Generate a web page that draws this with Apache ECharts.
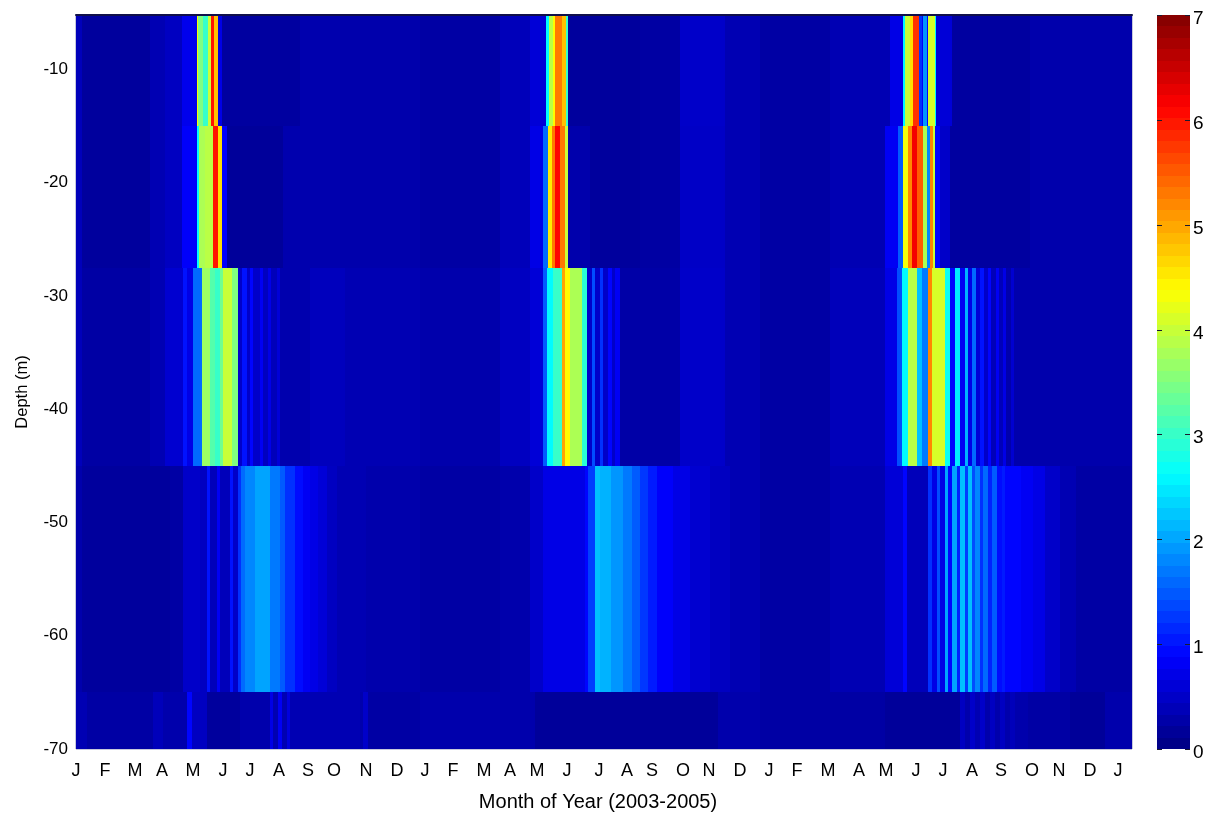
<!DOCTYPE html>
<html>
<head>
<meta charset="utf-8">
<style>html,body{margin:0;padding:0;background:#fff}#c{width:1223px;height:816px}</style>
<script src="https://cdn.jsdelivr.net/npm/echarts@6/dist/echarts.min.js"></script>
</head>
<body>
<div id="c"></div>
<script>
// Depth bands (m): top and bottom of each layer
const bandEdges = [-5.2, -15, -27.5, -45, -65, -70];
// Each layer: [end of run along the time axis, value]
const band1Runs = [[6,.4],[74,.2],[89,.35],[106,.45],[121,.75],[122,4.4],[127,3.5],[132,3],[135,4],[138,6],[142,4.8],[146,.7],[224,.22],[264,.32],[344,.3],[424,.25],[454,.4],[470,.6],[473,2.6],[477,3.9],[479,4.4],[486,5.3],[490,4.8],[492,3],[564,.2],[604,.24],[649,.5],[684,.35],[754,.25],[814,.35],[827,.7],[829,2.6],[834,4],[837,4.6],[843,5.8],[846,1.2],[847,.8],[851,1.9],[852,.9],[859,4.1],[860,2.6],[876,.6],[954,.22],[1056,.3]];
const band2Runs = [[6,.4],[74,.2],[89,.35],[106,.45],[121,.85],[123,2.6],[129,3.8],[137,3.9],[142,6],[146,4.6],[151,.85],[207,.18],[264,.32],[344,.3],[424,.25],[454,.4],[467,.7],[472,1.6],[476,4.5],[479,5.3],[484,6.1],[489,5.3],[492,4],[514,.3],[564,.2],[604,.24],[649,.48],[684,.35],[754,.25],[809,.35],[822,.8],[827,1.5],[832,4.3],[836,5.2],[841,6.2],[847,5.5],[851,3.8],[854,1.8],[857,5.2],[859,4],[864,.9],[874,.5],[954,.22],[1056,.3]];
const band3Runs = [[6,.4],[74,.25],[89,.35],[107,.55],[111,1],[117,.7],[126,1.6],[134,3.7],[139,3.2],[144,3],[147,3.4],[156,4],[162,3.5],[166,.5],[171,1],[174,.5],[177,.9],[184,.5],[187,.8],[192,.45],[195,.7],[201,.4],[204,.6],[234,.32],[269,.42],[344,.35],[424,.3],[454,.45],[467,.6],[471,1.5],[477,2.6],[486,3],[489,5],[494,4.4],[506,3.8],[511,2.9],[516,.5],[519,1.4],[524,.5],[527,1.2],[532,.5],[536,.9],[539,.5],[544,.8],[604,.27],[649,.5],[684,.35],[754,.25],[809,.4],[821,.7],[826,1.4],[832,2.6],[841,3.9],[846,2.2],[852,1.7],[856,5.2],[869,4.1],[874,2.7],[879,.9],[884,2.5],[889,.8],[892,2.1],[896,.7],[900,1.6],[904,.6],[908,1],[912,.5],[915,.9],[920,.4],[923,.8],[927,.4],[930,.7],[935,.3],[938,.55],[1056,.3]];
const band4Runs = [[6,.3],[94,.2],[107,.25],[124,.5],[131,.45],[134,1],[141,.4],[144,.8],[154,.4],[157,1],[162,.5],[165,1.2],[169,1.6],[179,1.8],[194,2],[204,1.7],[209,1.5],[219,1.2],[227,.95],[234,.8],[242,.7],[251,.6],[261,.45],[290,.35],[344,.3],[424,.25],[454,.3],[467,.5],[509,.7],[512,.9],[519,1.3],[524,2.2],[535,2.1],[547,1.9],[556,1.7],[564,1.5],[572,1.25],[581,1.05],[597,.85],[614,.7],[634,.55],[654,.45],[684,.35],[754,.25],[809,.35],[827,.6],[831,.9],[852,.4],[856,1.2],[861,.7],[864,1.4],[869,.7],[872,2],[876,.9],[881,2],[884,1.1],[889,2.2],[892,1.3],[896,2.2],[899,1.4],[904,1.8],[907,1.2],[912,1.6],[916,1.1],[921,1.5],[926,.95],[929,1.05],[945,.9],[957,.8],[969,.7],[984,.5],[1000,.35],[1056,.25]];
const band5Runs = [[11,.35],[77,.25],[87,.4],[111,.3],[116,.9],[131,.45],[164,.2],[194,.3],[197,.7],[202,.35],[206,.8],[211,.35],[214,.65],[284,.35],[287,.3],[292,.5],[344,.25],[459,.3],[642,.18],[684,.3],[754,.25],[809,.25],[884,.18],[889,.45],[894,.3],[899,.5],[904,.35],[909,.5],[914,.3],[919,.45],[924,.3],[929,.45],[934,.3],[939,.4],[952,.3],[994,.25],[1029,.17],[1056,.3]];
const bands = [band1Runs, band2Runs, band3Runs, band4Runs, band5Runs];

// Axis tick labels
const monthLabels = ['J','F','M','A','M','J','J','A','S','O','N','D','J','F','M','A','M','J','J','A','S','O','N','D','J','F','M','A','M','J','J','A','S','O','N','D','J'];
const monthPositions = [0,29,59,86,117,147,174,203,232,258,290,321,349,377,408,434,461,491,523,551,576,607,633,664,693,721,752,783,810,840,867,896,925,956,983,1014,1042];
const depthTicks = [-70,-60,-50,-40,-30,-20,-10];
const colorTicks = [0,1,2,3,4,5,6,7];
const jet = ['#000080','#0000ff','#0080ff','#00ffff','#80ff80','#ffff00','#ff8000','#ff0000','#800000'];
const colorMin = 0, colorMax = 7, colorLevels = 64;

const cells = [];
bands.forEach((runs, b) => {
  let start = 0;
  runs.forEach(([end, v]) => {
    cells.push([start, end, bandEdges[b], bandEdges[b + 1], v]);
    start = end;
  });
});
const barCells = [];
for (let i = 0; i < colorLevels; i++) {
  const lo = colorMin + (colorMax - colorMin) * i / colorLevels;
  const hi = colorMin + (colorMax - colorMin) * (i + 1) / colorLevels;
  barCells.push([0, 1, hi, lo, (lo + hi) / 2]);
}

const font = '"Liberation Sans", Arial, sans-serif';

const renderCell = (params, api) => {
  const a = api.coord([api.value(0), api.value(2)]);
  const b = api.coord([api.value(1), api.value(3)]);
  return {type: 'rect',
    shape: {x: Math.round(a[0]), y: Math.round(a[1]), width: Math.round(b[0]) - Math.round(a[0]), height: Math.round(b[1]) - Math.round(a[1])},
    style: {fill: api.visual('color')}};
};
// Short inward tick marks on both sides of the colour bar, with the tick's label
const renderBarTick = (params, api) => {
  const v = api.value(0);
  const l = api.coord([0, v]);
  const r = api.coord([1, v]);
  const y = Math.round(l[1]) + 0.5;
  const stroke = {stroke: '#1a1a30', lineWidth: 1, fill: null};
  return {type: 'group', children: [
    {type: 'line', shape: {x1: l[0], y1: y, x2: l[0] + 5, y2: y}, style: stroke},
    {type: 'line', shape: {x1: r[0] - 5, y1: y, x2: r[0], y2: y}, style: stroke},
    {type: 'text', x: r[0] + 3, y: y + 3, style: {text: String(v), fill: '#000', fontFamily: font, fontSize: 19, align: 'left', verticalAlign: 'middle'}}
  ]};
};

const chart = echarts.init(document.getElementById('c'), null, {renderer: 'canvas'});
chart.setOption({
  animation: false,
  backgroundColor: '#fff',
  grid: [
    {left: 76, top: 15, width: 1056, height: 734, outerBoundsMode: 'none', show: true, borderColor: '#8f93b8', borderWidth: 1, backgroundColor: '#00008f'},
    {left: 1157, top: 15, width: 33, height: 734, outerBoundsMode: 'none', show: false}
  ],
  xAxis: [
    {type: 'value', gridIndex: 0, min: 0, max: 1056,
     name: 'Month of Year (2003-2005)', nameLocation: 'middle', nameGap: 43,
     nameTextStyle: {fontFamily: font, fontSize: 20, color: '#000', padding: [0, 12, 0, 0]},
     position: 'bottom', splitLine: {show: false}, axisLine: {show: false}, axisTick: {show: false},
     axisLabel: {customValues: monthPositions, margin: 13, fontFamily: font, fontSize: 18, color: '#000', hideOverlap: false,
       formatter: v => monthLabels[monthPositions.indexOf(v)]}},
    {type: 'value', gridIndex: 0, min: 0, max: 1056, position: 'top', z: 10,
     splitLine: {show: false}, axisTick: {show: false}, axisLabel: {show: false},
     axisLine: {show: true, lineStyle: {color: '#10104a', width: 2}}},
    {type: 'value', gridIndex: 1, min: 0, max: 1, show: false}
  ],
  yAxis: [
    {type: 'value', gridIndex: 0, min: -70, max: -5.2,
     name: 'Depth (m)', nameLocation: 'middle', nameGap: 45,
     nameTextStyle: {fontFamily: font, fontSize: 16.5, color: '#000', padding: [0, 20, 0, 0]},
     splitLine: {show: false}, axisLine: {show: false}, axisTick: {show: false},
     axisLabel: {customValues: depthTicks, margin: 8, fontFamily: font, fontSize: 17, color: '#000'}},
    {type: 'value', gridIndex: 1, min: 0, max: 7, interval: 1, position: 'right',
     splitLine: {show: false}, axisLine: {show: false}, axisTick: {show: false}, axisLabel: {show: false}}
  ],
  visualMap: {
    type: 'continuous', show: false, seriesIndex: [0, 1], dimension: 4, min: colorMin, max: colorMax,
    inRange: {color: jet}
  },
  series: [{
    type: 'custom', xAxisIndex: 0, yAxisIndex: 0, silent: true, clip: true,
    encode: {x: [0, 1], y: [2, 3]},
    dimensions: ['start', 'end', 'top', 'bottom', 'value'],
    data: cells, renderItem: renderCell
  }, {
    type: 'custom', xAxisIndex: 2, yAxisIndex: 1, silent: true, clip: true,
    encode: {x: [0, 1], y: [2, 3]},
    dimensions: ['start', 'end', 'top', 'bottom', 'value'],
    data: barCells, renderItem: renderCell
  }, {
    type: 'custom', xAxisIndex: 2, yAxisIndex: 1, silent: true, clip: false, z: 5,
    encode: {y: 0},
    data: colorTicks.map(v => [v]), renderItem: renderBarTick
  }]
});
</script>
</body>
</html>
